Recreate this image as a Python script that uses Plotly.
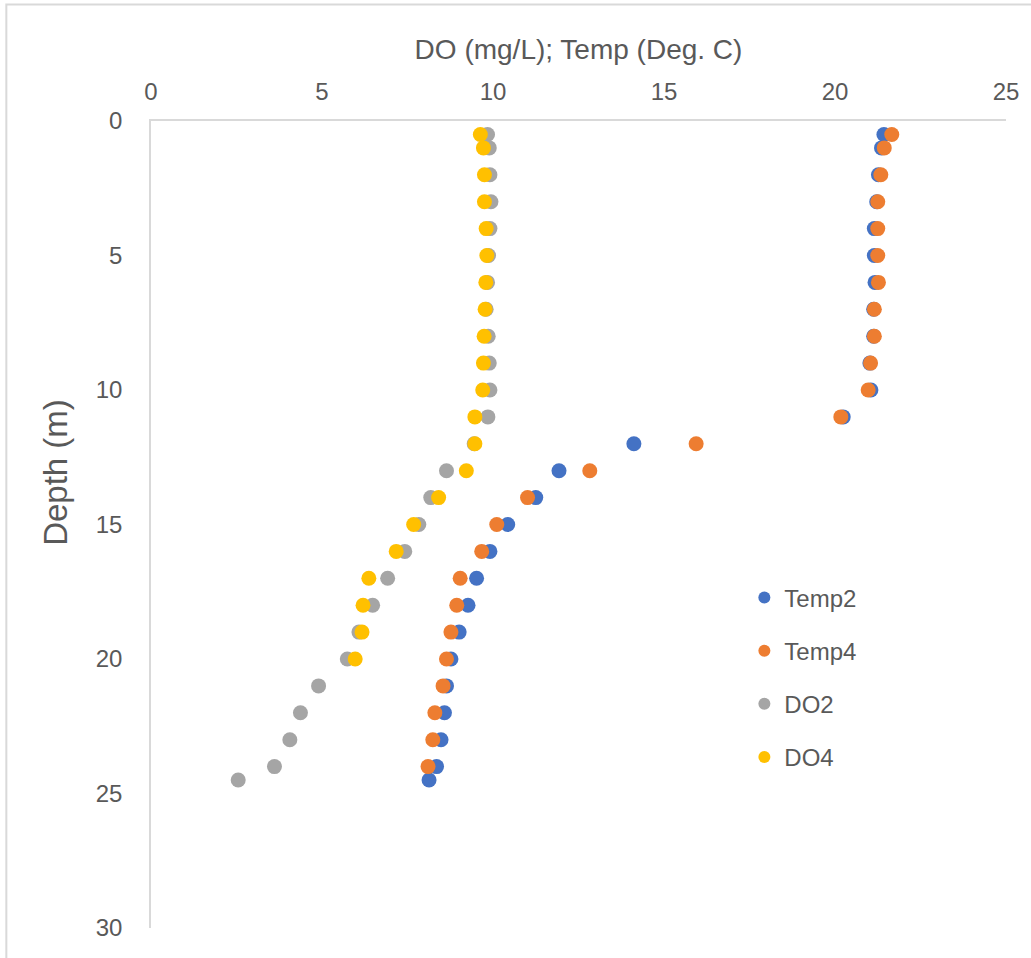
import plotly.graph_objects as go

depth_full = [0.5, 1, 2, 3, 4, 5, 6, 7, 8, 9, 10, 11, 12, 13, 14, 15, 16, 17, 18, 19, 20, 21, 22, 23, 24, 24.5]

temp2 = [21.43, 21.36, 21.27, 21.22, 21.15, 21.15, 21.17, 21.13, 21.13, 21.02, 21.05, 20.24, 14.12, 11.93,
         11.25, 10.43, 9.91, 9.52, 9.27, 9.01, 8.77, 8.64, 8.58, 8.48, 8.35, 8.13]
temp4 = [21.66, 21.44, 21.34, 21.25, 21.25, 21.25, 21.27, 21.15, 21.15, 21.04, 20.97, 20.17, 15.94, 12.83,
         11.01, 10.11, 9.67, 9.04, 8.94, 8.77, 8.64, 8.54, 8.30, 8.24, 8.10]
do2 = [9.84, 9.89, 9.91, 9.94, 9.91, 9.87, 9.84, 9.80, 9.86, 9.89, 9.91, 9.85, 9.45, 8.64,
       8.18, 7.83, 7.42, 6.92, 6.48, 6.08, 5.74, 4.90, 4.37, 4.06, 3.61, 2.55]
do4 = [9.63, 9.72, 9.75, 9.75, 9.80, 9.82, 9.79, 9.77, 9.74, 9.72, 9.70, 9.47, 9.47, 9.22,
       8.41, 7.68, 7.17, 6.37, 6.20, 6.17, 5.97]

series = [
    ("Temp2", temp2, "#4472C4"),
    ("Temp4", temp4, "#ED7D31"),
    ("DO2", do2, "#A5A5A5"),
    ("DO4", do4, "#FFC000"),
]

fig = go.Figure()
for name, vals, color in series:
    fig.add_trace(go.Scatter(
        x=vals, y=depth_full[:len(vals)], mode="markers", name=name,
        legendgroup=name,
        marker=dict(color=color, size=15, line=dict(width=0)),
    ))

font_family = "Liberation Sans, Arial, sans-serif"
grey = "#595959"
fig.update_layout(
    width=1031, height=958,
    margin=dict(l=151, r=23, t=121, b=30),
    paper_bgcolor="white", plot_bgcolor="white",
    font=dict(family=font_family, color=grey),
    showlegend=True,
    legend=dict(x=0.694, y=0.437, xanchor="left", yanchor="top",
                font=dict(size=24, color=grey), tracegroupgap=19,
                itemsizing="constant", bgcolor="rgba(0,0,0,0)"),
    xaxis=dict(
        side="top", range=[0, 25], tickvals=[0, 5, 10, 15, 20, 25],
        showgrid=False, zeroline=False, showline=True, linecolor="#D9D9D9", linewidth=1.5,
        ticks="", tickfont=dict(size=24, color=grey), ticklabelstandoff=10,
        title=dict(text="DO (mg/L); Temp (Deg. C)", font=dict(size=28, color=grey), standoff=10),
    ),
    yaxis=dict(
        range=[30, 0], tickvals=[0, 5, 10, 15, 20, 25, 30],
        showgrid=False, zeroline=False, showline=True, linecolor="#D9D9D9", linewidth=1.5,
        ticks="", tickfont=dict(size=24, color=grey), ticklabelstandoff=22,
    ),
)

fig.add_annotation(text="Depth (m)", xref="paper", yref="paper", x=-0.1125, y=0.565,
                   xanchor="center", yanchor="middle", textangle=-90, showarrow=False,
                   font=dict(size=33, color=grey, family=font_family))

fig.add_shape(type="rect", xref="paper", yref="paper",
              x0=-0.1692, x1=1.06, y0=-0.06, y1=1.1444,
              line=dict(color="#D9D9D9", width=2), fillcolor="rgba(0,0,0,0)", layer="below")

fig.write_html("out.html", config={"displayModeBar": False},
               post_script="document.body.style.margin='0px';")
